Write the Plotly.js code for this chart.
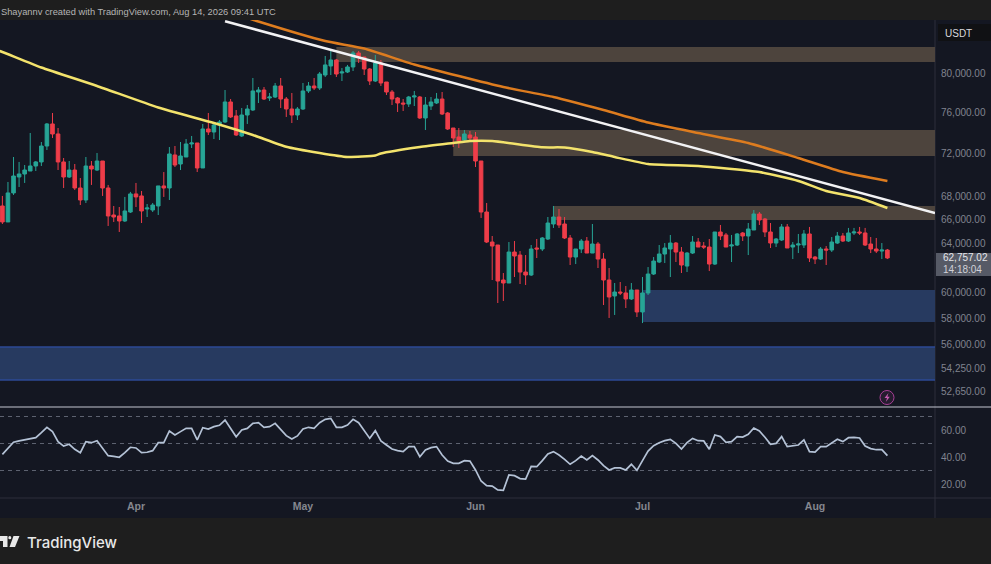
<!DOCTYPE html>
<html>
<head>
<meta charset="utf-8">
<script src="https://cdn.plot.ly/plotly-3.0.1.min.js"></script>
<style>html,body{margin:0;padding:0;background:#1e1e1e;overflow:hidden}#c{width:991px;height:564px}</style>
</head>
<body>
<div id="c"></div>
<script>
const firstDate = '2026-03-08';
const opens = [
67190,65795,68350,69795,70070,70345,70810,71185,72690,74825,
73850,71185,69795,70435,68795,67720,70810,70435,71275,68795,
66400,66315,65880,66660,68260,68080,66925,66835,67190,68980,
68795,71840,70995,71650,72885,72980,70625,74335,74040,74725,
75020,77015,75615,73655,75710,76210,78030,78235,77420,77520,
78650,77315,76310,75710,76310,78135,78650,78440,79790,80740,
81380,80000,80105,80635,82130,81700,80420,79165,81060,79060,
78030,77420,76910,76810,77520,77520,75415,76610,76910,77315,
75910,74430,73555,73265,73750,73555,71275,66660,64085,63835,
60970,60730,63250,63000,61610,61370,63585,63500,64340,65620,
66225,65620,64425,62835,63500,64170,63165,63920,62670,60970,
59705,60015,59940,59470,60175,58465,59940,61450,62425,63085,
63500,64000,63250,62095,63165,64085,63750,63665,62260,64935,
64680,63750,63835,64850,64595,65105,66485,66050,64935,64000,
64255,65365,63665,63835,63835,64765,62835,62670,63500,63415,
64000,64595,64170,64850,64935,64850,63920,63500,63330,63415];
const highs = [
68080,69340,71650,71185,70900,73945,71275,73075,74920,75910,
74430,71555,71275,70995,69700,71650,71275,72025,71275,69070,
67190,67100,67990,68440,69250,68525,67365,67455,68980,70250,
72595,72690,73075,73360,73655,72980,74825,75910,75020,75215,
78235,77315,76210,76410,76710,79480,78545,78545,77930,78960,
79480,77520,77930,76510,78960,79060,79480,80105,81810,82450,
81490,80525,80850,82345,82345,81700,80525,81920,81380,79060,
78235,77520,77315,77625,78135,77625,77520,77520,77930,78030,
76010,74430,74430,74235,74140,74040,71275,67455,64595,63835,
61530,64085,64170,63330,63000,63835,64340,64510,66225,67190,
66925,66225,64680,63500,64340,64510,65620,64085,63165,61935,
60730,60810,60490,60730,60175,61210,62015,62835,63835,64000,
64680,64085,63665,63250,64595,64425,64085,64340,64935,65535,
64850,64680,64850,64935,65705,66835,66660,66140,65705,64425,
65620,65620,64085,64765,65105,65365,62920,63665,63750,64510,
64935,64850,65280,65280,65365,65280,64510,64425,64000,63500];
const lows = [
65620,65795,68170,68885,69250,70345,70345,70810,72310,73460,
70435,68795,69700,68615,67275,67455,69070,70345,68080,65450,
65795,64935,65795,66575,67100,65705,66225,66660,66400,67990,
67720,70715,70435,71650,72500,70250,70625,73750,73360,73265,
74920,75415,73655,73555,74825,76110,76910,77215,77115,77420,
76410,75515,74920,75215,76210,77930,78235,78235,79585,79790,
79585,79165,80000,80210,81060,79790,78750,79060,78650,77725,
76710,76010,76110,76510,76610,75315,74235,76210,76810,75710,
74235,72595,72500,73170,73265,70715,66140,64000,60970,59155,
59310,60730,61210,60650,60570,61290,62755,63330,64255,65280,
65280,64340,62180,62260,63165,63165,63165,61935,59000,58005,
58235,59780,58770,59390,58080,57620,59780,61370,62340,62340,
61210,62425,61530,61610,63085,63665,63500,61690,62180,64255,
63665,62425,63750,64170,63000,65105,65535,64510,63585,63665,
64170,63585,62670,63165,63585,62425,62260,62590,62180,63250,
63920,64085,64085,64680,64680,63750,63165,63165,62670,62670];
const closes = [
65795,68350,69885,70070,70435,70810,71185,72690,74825,73850,
71185,69795,70435,68795,67720,70810,70530,71275,68795,66315,
66225,65880,66750,68260,67990,66750,67010,67275,68980,68795,
71935,70900,71745,72885,72980,70625,74335,74040,74725,75020,
77015,75515,73750,75710,76310,78135,78235,77315,77520,78650,
77315,76310,75710,76310,78135,78650,78440,79895,80850,81380,
79895,80105,80635,82130,81700,80420,79165,81060,78960,78030,
77315,76910,76810,77520,77625,75415,76710,77015,77315,75810,
74335,73460,73170,73850,73460,71275,66660,64085,63750,60890,
60730,63250,62920,61610,61370,63500,63500,64425,65705,66225,
65535,64425,62835,63500,64170,63165,63920,62670,60970,59625,
60015,59940,59470,60175,58465,59940,61450,62505,63085,63585,
64000,63250,62180,63165,64085,63665,63665,62260,64935,64595,
63665,63835,64765,64595,65190,66485,65965,64935,64000,64340,
65365,63585,63835,63920,64765,62755,62670,63500,63415,64085,
64595,64170,64850,64935,64850,63835,63500,63330,63415,62757];
const rsi = [
42,46.4,50.9,51.9,52.6,53.3,54.3,58,62,58.8,
51.4,48.1,49.4,45.7,43.2,51.4,50.6,52.1,46.4,41,
40.5,39.8,43.2,47.2,46.7,43.2,43.5,44.7,50.6,50.6,
59.3,56.3,58.8,61.2,61.2,52.6,61.7,60.7,62.5,63.5,
67.4,61.2,55,60,61.2,64.9,65.4,62,62.5,64.9,
60,55.8,53.3,55.6,60.7,62,61.2,65.4,67.9,68.6,
62,62,63.7,67.9,65.4,60,53.8,59.5,51.9,48.9,
45.9,44.7,44,47.7,47.7,40.2,45.2,46.9,47.7,41.5,
37,35.3,35.3,37.3,37,30.4,22.2,18.8,18.5,15.6,
15.3,26.7,26.2,24,23.7,33.1,32.8,37.3,42.2,44,
41.5,38.3,34.6,37.3,40.7,37.8,41,37.8,33.6,30.4,
31.9,31.9,30.4,34.6,30.1,37.3,44.4,48.4,50.6,52.1,
53.1,50.1,45.9,50.6,53.8,52.1,51.9,45.7,56.3,55.1,
50.9,51.4,55.1,54.8,56.8,61.5,59.3,54.6,49.4,50.1,
55.1,47.7,48.1,48.9,52.6,44,43.7,47.7,47.7,50.1,
53.1,51.4,54.3,54.6,54.1,48.1,46.2,45.4,45.4,41];

const ma200Dates = ['2026-03-07','2026-03-08','2026-03-15','2026-03-25','2026-04-05','2026-04-15','2026-04-22','2026-04-28','2026-05-04','2026-05-09','2026-05-14','2026-05-15','2026-05-22','2026-05-28','2026-05-31','2026-06-04','2026-06-13','2026-06-17','2026-06-22','2026-06-26','2026-07-02','2026-07-11','2026-07-22','2026-07-29','2026-08-03','2026-08-09','2026-08-14'];
const ma200 = [82450,82240,80580,78650,76460,74920,73750,72620,72025,71650,71790,71980,72595,72980,73170,73170,72570,72550,72120,71650,70995,70810,70250,69430,68525,67900,67010];
const ma100Dates = ['2026-04-20','2026-04-23','2026-05-05','2026-05-12','2026-05-21','2026-06-06','2026-06-15','2026-06-24','2026-07-02','2026-07-11','2026-07-20','2026-07-29','2026-08-06','2026-08-14'];
const ma100 = [86213,85595,83430,82615,80900,78545,77520,76210,74970,73945,72980,71555,70250,69430];
const trendDates = ['2026-04-17','2026-08-22 13:12'];
const trendValues = [85616,66575];

const priceTicks = [80000,76000,72000,68000,66000,64000,60000,58000,56000,54250,52650];
const rsiTicks = [60,40,20];
const rsiLevels = [70,50,30];
const monthTicks = ['2026-04-01','2026-05-01','2026-06-01','2026-07-01','2026-08-01'];
const monthLabels = ['Apr','May','Jun','Jul','Aug'];

const tanZones = [
  {from:'2026-05-07', hi:82777, lo:81170},
  {from:'2026-05-28', hi:74235, lo:71745},
  {from:'2026-06-15', hi:67190, lo:65965}
];
const blueZones = [
  {from:'2026-07-01', hi:60175, lo:57700, edge:false},
  {from:'2026-03-07', hi:55840, lo:53470, edge:true}
];

const lastPrice = '62,757.02';
const countdown = '14:18:04';
const headerText = 'Shayannv created with TradingView.com, Aug 14, 2026 09:41 UTC';

const W = 991, H = 564;
const px = v => v / W, py = v => 1 - v / H;
const xStart = '2026-03-07 13:41', xEnd = '2026-08-22 13:12';
const dates = opens.map((_, i) => {
  const d = new Date(Date.parse(firstDate + 'T00:00:00Z') + i * 864e5);
  return d.toISOString().slice(0, 10);
});
const fmt = v => v.toLocaleString('en-US', {minimumFractionDigits:2, maximumFractionDigits:2});

const BG = '#141722', BAR = '#1e1e1e', GREEN = '#27a596', RED = '#ee3d49';
const FONT = '"Liberation Sans", Arial, sans-serif';
const AX = '#80838f';

const traces = [
  {type:'candlestick', x:dates, open:opens, high:highs, low:lows, close:closes, xaxis:'x', yaxis:'y',
   increasing:{line:{color:GREEN, width:1}, fillcolor:GREEN},
   decreasing:{line:{color:RED, width:1}, fillcolor:RED},
   whiskerwidth:0, showlegend:false, hoverinfo:'skip'},
  {type:'scatter', mode:'lines', x:ma200Dates, y:ma200, xaxis:'x', yaxis:'y',
   line:{color:'#f3e36c', width:2.5, shape:'spline', smoothing:0.5}, showlegend:false, hoverinfo:'skip'},
  {type:'scatter', mode:'lines', x:ma100Dates, y:ma100, xaxis:'x', yaxis:'y',
   line:{color:'#dd7c1f', width:2.5, shape:'spline', smoothing:0.5}, showlegend:false, hoverinfo:'skip'},
  {type:'scatter', mode:'lines', x:trendDates, y:trendValues, xaxis:'x', yaxis:'y',
   line:{color:'#f2f2f4', width:2.5}, showlegend:false, hoverinfo:'skip'},
  {type:'scatter', mode:'lines', x:dates, y:rsi, xaxis:'x', yaxis:'y2',
   line:{color:'#b4c2d6', width:1.7}, showlegend:false, hoverinfo:'skip'}
];

const paperRect = (x0, y0, x1, y1, fill, layer) => ({type:'rect', xref:'paper', yref:'paper',
  x0:px(x0), x1:px(x1), y0:py(y0), y1:py(y1), fillcolor:fill, line:{width:0}, layer:layer || 'below'});
const paperLine = (x0, y0, x1, y1, color, w) => ({type:'line', xref:'paper', yref:'paper',
  x0:px(x0), x1:px(x1), y0:py(y0), y1:py(y1), line:{color:color, width:w}, layer:'below'});

const shapes = [
  paperRect(0, 20, W, 518, BG),
  paperLine(935, 20, 935, 518, '#2c2f3a', 1),
  paperLine(0, 498, W, 498, '#2c2f3a', 1),
  ...tanZones.map(z => ({type:'rect', xref:'x', yref:'y', x0:z.from, x1:xEnd, y0:z.lo, y1:z.hi,
      fillcolor:'#4d443d', line:{width:0}, layer:'below'})),
  ...blueZones.map(z => ({type:'rect', xref:'x', yref:'y', x0:z.from, x1:xEnd, y0:z.lo, y1:z.hi,
      fillcolor:'#273a60', line:{width:0}, layer:'below'})),
  ...blueZones.filter(z => z.edge).flatMap(z => [z.hi, z.lo].map(v => ({type:'line', xref:'x', yref:'y',
      x0:z.from, x1:xEnd, y0:v, y1:v, line:{color:'#2c4a96', width:1.5}, layer:'below'}))),
  ...rsiLevels.map(v => ({type:'line', xref:'x', yref:'y2', x0:xStart, x1:xEnd, y0:v, y1:v,
      line:{color:'#5d6270', width:1, dash:'4px,4px'}, layer:'below'})),
  paperLine(0, 407, W, 407, '#c3c6d0', 1),
  paperRect(936, 253, W, 276, '#565a66', 'above'),
  paperRect(938, 24, W, 41, '#101114', 'above'),
  {type:'circle', xref:'paper', yref:'paper', x0:px(880), x1:px(894), y0:py(404.5), y1:py(390.5),
   line:{color:'#a83f96', width:1}, fillcolor:'rgba(168,63,150,0.12)', layer:'above'},
  {type:'path', xref:'paper', yref:'paper', layer:'above', fillcolor:'#c45ab0', line:{width:0},
   path:`M ${px(888.5)} ${py(393)} L ${px(884.5)} ${py(398)} L ${px(887)} ${py(398)} L ${px(885.8)} ${py(402)} L ${px(889.8)} ${py(396.8)} L ${px(887.4)} ${py(396.8)} Z`},
  {type:'path', xref:'paper', yref:'paper', layer:'above', fillcolor:'#e8e8e8', line:{width:0},
   path:`M ${px(0)} ${py(536)} L ${px(7.5)} ${py(536)} L ${px(7.5)} ${py(547)} L ${px(3)} ${py(547)} L ${px(3)} ${py(541)} L ${px(0)} ${py(541)} Z`},
  {type:'circle', xref:'paper', yref:'paper', layer:'above', fillcolor:'#e8e8e8', line:{width:0},
   x0:px(8.3), x1:px(11.3), y0:py(539.3), y1:py(536)},
  {type:'path', xref:'paper', yref:'paper', layer:'above', fillcolor:'#e8e8e8', line:{width:0},
   path:`M ${px(13.5)} ${py(536)} L ${px(19.5)} ${py(536)} L ${px(15)} ${py(547)} L ${px(9.5)} ${py(547)} Z`}
];

const note = (x, y, text, size, color, extra) => Object.assign({xref:'paper', yref:'paper', x:px(x), y:py(y),
  text:text, showarrow:false, xanchor:'left', yanchor:'middle', borderpad:0,
  font:{family:FONT, size:size, color:color}}, extra || {});

const annotations = [
  note(0, 12, headerText, 9.3, '#b5b5b5'),
  note(944, 33, 'USDT', 10, '#d8d8dc'),
  note(941.5, 258, lastPrice, 10, '#e4e5ea'),
  note(941.5, 269, countdown, 10, '#d0d1d8'),
  note(26, 542, 'TradingView', 16, '#e8e8e8', {font:{family:'Inter, "Liberation Sans", sans-serif', size:15, color:'#e8e8e8', weight:500}})
];

const layout = {
  width:W, height:H, margin:{l:0, r:0, t:0, b:0, pad:0},
  paper_bgcolor:BAR, plot_bgcolor:'rgba(0,0,0,0)',
  showlegend:false, dragmode:false, shapes:shapes, annotations:annotations,
  boxgap:0.08,
  font:{family:FONT, size:10, color:AX},
  xaxis:{domain:[0, px(935)], type:'date', range:[xStart, xEnd], anchor:'y2',
    rangeslider:{visible:false}, showgrid:false, zeroline:false, showline:false,
    tickmode:'array', tickvals:monthTicks, ticktext:monthLabels, ticks:'',
    tickfont:{family:FONT, size:10.5, color:'#85878f', weight:600}},
  yaxis:{domain:[py(407), py(20)], type:'log', range:[4.71273, 4.9333], side:'right', anchor:'x',
    showgrid:false, zeroline:false, showline:false, ticks:'',
    tickmode:'array', tickvals:priceTicks, ticktext:priceTicks.map(fmt),
    ticklabelstandoff:5, tickfont:{family:FONT, size:10, color:AX}},
  yaxis2:{domain:[py(498), py(408)], range:[9.63, 76.3], side:'right', anchor:'x',
    showgrid:false, zeroline:false, showline:false, ticks:'',
    tickmode:'array', tickvals:rsiTicks, ticktext:rsiTicks.map(fmt),
    ticklabelstandoff:5, tickfont:{family:FONT, size:10, color:AX}}
};

Plotly.newPlot('c', traces, layout, {staticPlot:true, displayModeBar:false, responsive:false});
</script>
</body>
</html>
